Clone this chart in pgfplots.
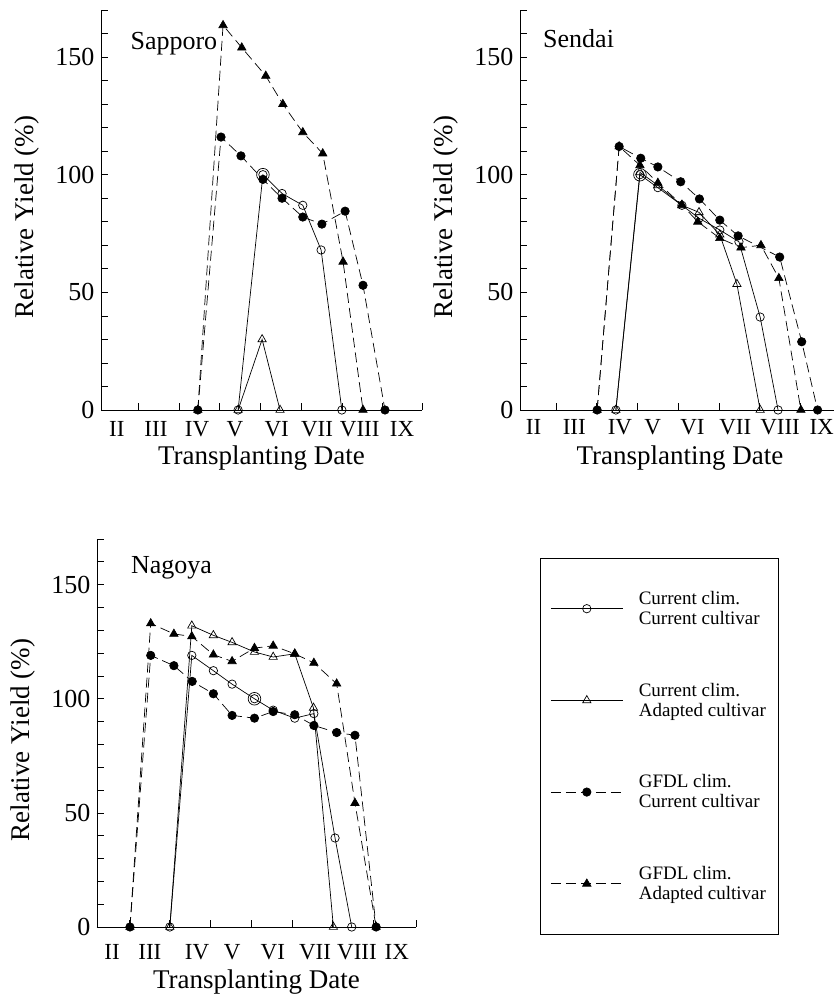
\documentclass[border=0pt]{standalone}
\usepackage{pgfplots}
\pgfplotsset{compat=1.18}
\usepackage{fontspec}
\setmainfont{Liberation Serif}

\tikzset{romfont/.style={font=\fontsize{23}{26}\selectfont}}
\pgfplotsset{
  /pgf/number format/assume math mode=true,
  panel/.style={
    scale only axis, axis lines*=left, clip=false,
    ymin=0, ymax=170,
    ytick={0,50,100,150},
    minor ytick={10,20,...,170},
    tick align=inside, major tick length=7pt, minor tick length=7pt,
    xticklabels={},
    extra x tick labels={II,III,IV,V,VI,VII,VIII,IX},
    yticklabel style={font=\fontsize{26}{30}\selectfont, xshift=-3pt},
    axis line style={line width=0.8pt},
    tick style={line width=0.7pt, black},
    xlabel={Transplanting Date}, ylabel={Relative Yield (\%)},
    label style={font=\fontsize{27}{32}\selectfont},
    ylabel style={at={([xshift=-74pt,yshift=-7pt]axis description cs:0,0.5)}, anchor=center},
    legend image code/.code={\path[draw=none,fill=none] (0pt,0pt) -- (86pt,0pt);\draw[mark repeat=2,mark phase=2,##1] plot coordinates {(0pt,0pt) (36pt,0pt) (72pt,0pt)};},
  },
  cc/.style={black, solid, line width=0.7pt, mark=o, mark size=4.2pt, mark options={solid}},
  ca/.style={black, solid, line width=0.7pt, mark=triangle, mark size=4.8pt, mark options={solid}},
  gc/.style={black, line width=0.7pt, dash pattern=on 10pt off 5pt, mark=*, mark size=4.2pt, mark options={solid}},
  ga/.style={black, line width=0.7pt, dash pattern=on 10pt off 5pt, mark=triangle*, mark size=4.8pt, mark options={solid}},
  dbl/.style={black, only marks, mark=o, mark size=6.3pt, line width=0.7pt},
}

\begin{document}
\begin{tikzpicture}
\path[use as bounding box] (0,0) rectangle (834pt,998pt);

% ---------------- Sapporo ----------------
\begin{axis}[panel,
  at={(101pt,588pt)}, anchor=south west,
  width=321pt, height=400pt,
  xmin=2.08, xmax=9.97,
  xtick={3,4,5,6,7,8,9,9.97},
  extra x ticks={2.47,3.43,4.44,5.37,6.40,7.39,8.44,9.48},
  extra x tick style={major tick length=0pt, tick label style={romfont, anchor=base, yshift=-27pt}},
  xlabel style={at={([yshift=-55pt]axis description cs:0.5,0)}, anchor=base},
]
\addplot[cc] coordinates {(5.45,0) (6.06,100) (6.53,92) (7.04,87) (7.49,68) (8.00,0)};
\addplot[ca] coordinates {(5.45,0) (6.04,30) (6.48,0)};
\addplot[gc] coordinates {(4.46,0) (5.03,116) (5.52,108) (6.06,98) (6.53,90) (7.04,82) (7.51,79) (8.08,84.5) (8.52,53) (9.06,0)};
\addplot[ga] coordinates {(4.46,0) (5.08,163.5) (5.54,154) (6.13,142) (6.55,130) (7.04,118) (7.53,109) (8.03,63) (8.52,0)};
\addplot[dbl] coordinates {(6.06,100)};
\node[anchor=base west, font=\fontsize{26}{30}\selectfont] at (axis cs:2.72,153) {Sapporo};
\end{axis}

% ---------------- Sendai ----------------
\begin{axis}[panel,
  at={(520pt,588pt)}, anchor=south west,
  width=320pt, height=400pt,
  xmin=2.117, xmax=9.97,
  xtick={3,4,5,6,7,8,9},
  extra x ticks={2.45,3.45,4.57,5.37,6.35,7.40,8.50,9.52},
  extra x tick style={major tick length=0pt, tick label style={romfont, anchor=base, yshift=-25pt}},
  xlabel style={at={([yshift=-55pt]axis description cs:0.5,0)}, anchor=base},
]
\addplot[cc] coordinates {(4.47,0) (5.06,100) (5.50,94.5) (6.09,87) (6.51,81.5) (7.02,76.5) (7.49,71.5) (8.01,39.5) (8.45,0)};
\addplot[ca] coordinates {(4.47,0) (5.06,101) (5.50,95.5) (6.09,87) (6.51,84) (7.02,74.5) (7.44,53.5) (8.01,0)};
\addplot[gc] coordinates {(4.01,0) (4.55,112) (5.08,107) (5.50,103.3) (6.06,97) (6.52,89.7) (7.02,80.7) (7.47,74) (8.49,65) (9.03,29) (9.42,0)};
\addplot[ga] coordinates {(4.01,0) (4.55,112) (5.06,104) (5.50,96.5) (6.09,87.2) (6.48,80) (7.02,73) (7.54,69) (8.03,70) (8.47,56) (9.01,0)};
\addplot[dbl] coordinates {(5.06,100)};
\node[anchor=base west, font=\fontsize{26}{30}\selectfont] at (axis cs:2.60,154) {Sendai};
\end{axis}

% ---------------- Nagoya ----------------
\begin{axis}[panel,
  at={(97pt,71pt)}, anchor=south west,
  width=319pt, height=388pt,
  xmin=2.08, xmax=9.92,
  xtick={2.87,3.87,4.87,5.87,6.87,7.87,8.87,9.92},
  extra x ticks={2.45,3.38,4.54,5.40,6.40,7.44,8.47,9.45},
  extra x tick style={major tick length=0pt, tick label style={romfont, anchor=base, yshift=-33pt}},
  xlabel style={at={([yshift=-61pt]axis description cs:0.5,0)}, anchor=base},
  legend style={at={(1.389,0.951)}, anchor=north west, draw=black, line width=0.7pt,
    font=\fontsize{19}{20}\selectfont, cells={align=left}, row sep=53pt,
    inner xsep=10pt, inner ysep=31pt},
  legend cell align=left,
]
\addplot[cc] coordinates {(3.87,0) (4.41,119) (4.94,112.3) (5.40,106.4) (5.95,100) (6.41,95) (6.94,91.5) (7.41,93.5) (7.93,39) (8.34,0)};
\addlegendentry{Current clim.\\Current cultivar}
\addplot[ca] coordinates {(3.87,0) (4.41,132) (4.94,127.8) (5.40,124.7) (5.95,120.5) (6.41,118.3) (6.94,119.7) (7.40,96) (7.89,0)};
\addlegendentry{Current clim.\\Adapted cultivar}
\addplot[gc] coordinates {(2.89,0) (3.40,119) (3.97,114.5) (4.42,107.6) (4.94,102.2) (5.40,92.7) (5.95,91.5) (6.41,94.4) (6.94,93) (7.41,88.3) (7.97,85.2) (8.42,84) (8.94,0)};
\addlegendentry{GFDL clim.\\Current cultivar}
\addplot[ga] coordinates {(2.89,0) (3.40,133) (3.97,128.4) (4.41,127.3) (4.94,119.3) (5.40,116.4) (5.95,122.2) (6.41,123.2) (6.94,119.7) (7.41,115.7) (7.97,106.6) (8.42,54.3) (8.94,0)};
\addlegendentry{GFDL clim.\\Adapted cultivar}
\addplot[dbl, forget plot] coordinates {(5.95,100)};
\node[anchor=base west, font=\fontsize{26}{30}\selectfont] at (axis cs:2.83,155) {Nagoya};
\end{axis}
\end{tikzpicture}
\end{document}
